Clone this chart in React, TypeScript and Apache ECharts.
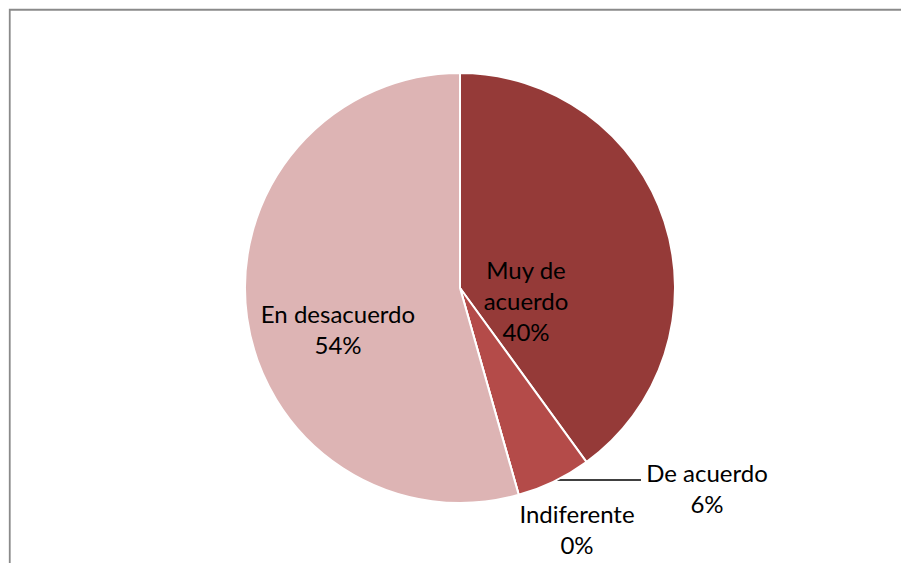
import React, { useEffect, useRef } from "react";
import * as echarts from "echarts";

const categories = ["Muy de acuerdo", "De acuerdo", "Indiferente", "En desacuerdo"];
const values = [50, 7, 0, 68];
const labelTexts = ["Muy de\nacuerdo", "De acuerdo", "Indiferente", "En desacuerdo"];
const colors = ["#953A38", "#B44B49", "#C46A68", "#DDB4B4"];
// label anchor positions (centers) in px
const labelPos = [
  [526, 300],
  [707, 488],
  [577, 529],
  [338, 329],
];

export default function App() {
  const ref = useRef<HTMLDivElement>(null);
  useEffect(() => {
    if (!ref.current) return;
    const chart = echarts.init(ref.current, undefined, { renderer: "svg" });
    const data = categories.map((c, i) => ({
      name: c,
      value: values[i],
      itemStyle: { color: colors[i] },
      labelLine: { show: i === 1, lineStyle: { color: "#000", width: 1.5 } },
    }));
    chart.setOption({
      animation: false,
      backgroundColor: "#fff",
      graphic: [
        {
          type: "rect",
          shape: { x: 9.75, y: 9.75, width: 1000, height: 1000 },
          style: { fill: "none", stroke: "#8a8a8a", lineWidth: 1.8 },
          silent: true,
        },
      ],
      series: [
        {
          type: "pie",
          center: [460, 288],
          radius: 215,
          startAngle: 90,
          clockwise: true,
          avoidLabelOverlap: false,
          itemStyle: { borderColor: "#fff", borderWidth: 2 },
          data,
          label: {
            show: true,
            position: "outside",
            formatter: (p: any) => labelTexts[p.dataIndex] + "\n" + Math.round(p.percent) + "%",
            fontFamily: "Lato, 'Open Sans', sans-serif",
            fontSize: 24,
            lineHeight: 31,
            color: "#000",
            align: "center",
          },
          labelLayout: (params: any) => {
            const i = params.dataIndex;
            const res: any = {
              x: labelPos[i][0],
              y: labelPos[i][1],
              align: "center",
              verticalAlign: "middle",
            };
            if (i === 1) {
              res.labelLinePoints = [
                [557, 480],
                [600, 480],
                [641, 480],
              ];
            }
            return res;
          },
        },
      ],
    });
    return () => chart.dispose();
  }, []);
  return (
    <div
      ref={ref}
      style={{ position: "fixed", left: 0, top: 0, width: 901, height: 563 }}
    />
  );
}
